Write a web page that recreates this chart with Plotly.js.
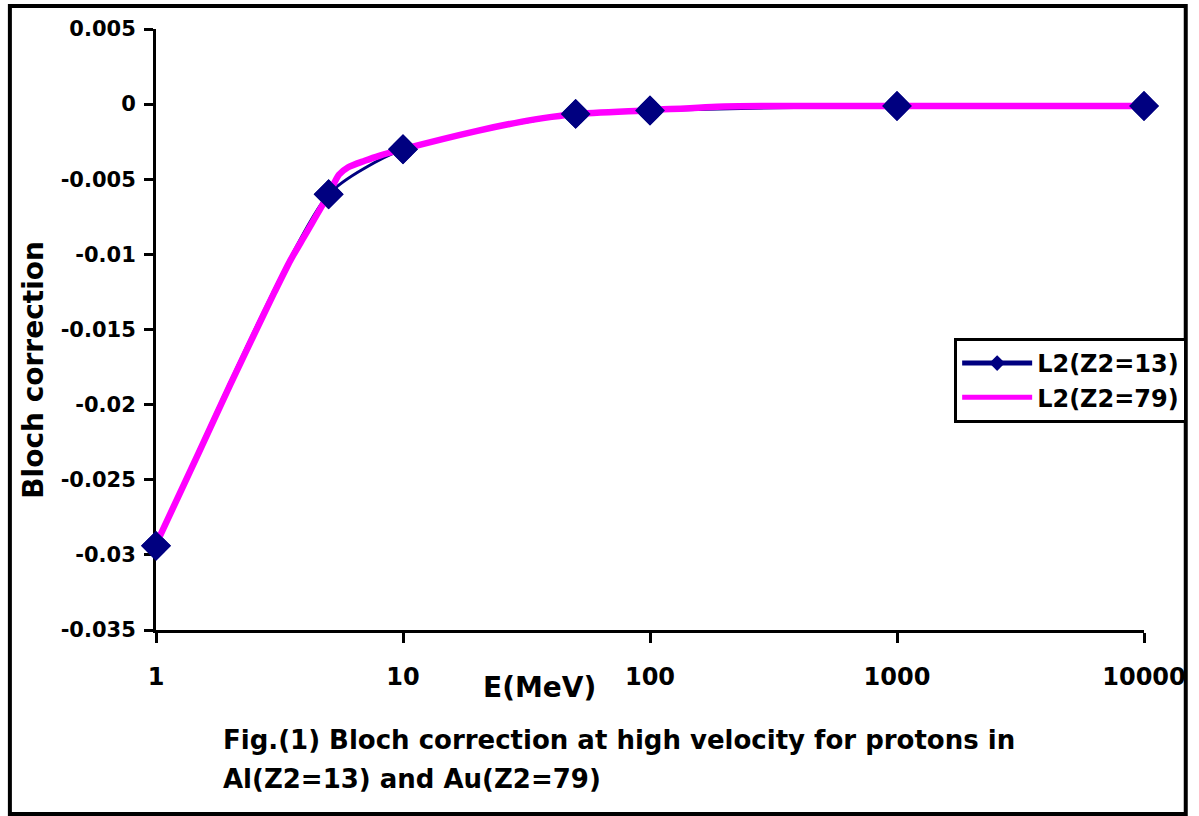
<!DOCTYPE html>
<html><head><meta charset="utf-8">
<script src="https://cdn.plot.ly/plotly-3.0.1.min.js"></script>
<style>html,body{margin:0;padding:0;background:#fff}#chart{width:1199px;height:816px}</style>
</head><body><div id="chart"></div>
<script>
// Series L2(Z2=13): marked points
const energyAl = [1, 5, 10, 50, 100, 1000, 10000];
const blochAl = [-0.0294, -0.0060, -0.0030, -0.00065, -0.00042, -0.00012, -0.00012];
// Series L2(Z2=79): denser curve
const energyAu = [1, 1.5, 2, 2.5, 3, 3.5, 4, 5, 5.5, 6, 7, 8, 10, 20, 30, 40, 50, 100, 200, 300, 500, 1000, 10000];
const blochAu = [-0.0293, -0.0231, -0.01865, -0.0153, -0.0126, -0.0104, -0.00875, -0.0060, -0.0047, -0.0042, -0.00377, -0.00344, -0.0030, -0.00178, -0.00118, -0.00085, -0.00065, -0.00040, -0.00015, -0.00012, -0.00012, -0.00012, -0.00012];
const seriesNames = ['L2(Z2=13)', 'L2(Z2=79)'];
const xTickVals = [1, 10, 100, 1000, 10000];
const xTickText = ['1', '10', '100', '1000', '10000'];
const yTickVals = [0.005, 0, -0.005, -0.01, -0.015, -0.02, -0.025, -0.03, -0.035];
const yTickText = ['0.005', '0', '-0.005', '-0.01', '-0.015', '-0.02', '-0.025', '-0.03', '-0.035'];
const xTitle = 'E(MeV)';
const yTitle = 'Bloch correction';
const captionLines = ['Fig.(1) Bloch correction at high velocity for protons in', 'Al(Z2=13) and Au(Z2=79)'];

const FONT = 'DejaVu Sans, Arial, sans-serif';
const NAVY = '#000080', PINK = '#FF00FF';
const L = 156, R = 49, T = 29, B = 186, W = 1199 - L - R, H = 816 - T - B;
const px = v => (v - L) / W;
const py = v => (816 - B - v) / H;

const traces = [
  {x: energyAl, y: blochAl, name: seriesNames[0], mode: 'lines+markers',
   line: {color: NAVY, width: 3, shape: 'spline', smoothing: 0.6}, marker: {symbol: 'diamond', size: 23, color: NAVY}, cliponaxis: false},
  {x: energyAu, y: blochAu, name: seriesNames[1], mode: 'lines',
   line: {color: PINK, width: 6.5, shape: 'spline', smoothing: 0.7}, cliponaxis: false},
  {x: energyAl, y: blochAl, name: seriesNames[0], mode: 'markers', showlegend: false,
   marker: {symbol: 'diamond', size: 23, color: NAVY}, cliponaxis: false}
];

const layout = {
  width: 1199, height: 816,
  margin: {l: L, r: R, t: T, b: B, pad: 0},
  paper_bgcolor: '#fff', plot_bgcolor: '#fff',
  showlegend: true,
  legend: {x: px(959), y: py(338), xanchor: 'left', yanchor: 'top',
    bordercolor: '#000', borderwidth: 3, bgcolor: '#fff',
    font: {family: FONT, size: 24, color: '#000', weight: 'bold'},
    itemwidth: 70, itemsizing: 'constant', tracegroupgap: 0},
  xaxis: {type: 'log', range: [0, 4], tickvals: xTickVals, ticktext: xTickText,
    showgrid: false, zeroline: false, showline: true, linecolor: '#000', linewidth: 3,
    ticks: 'outside', ticklen: 10, tickwidth: 3, tickcolor: '#000', layer: 'below traces',
    ticklabelstandoff: 13,
    tickfont: {family: FONT, size: 24, color: '#000', weight: 'bold'}},
  yaxis: {range: [-0.035, 0.005], tickvals: yTickVals, ticktext: yTickText,
    showgrid: false, zeroline: false, showline: true, linecolor: '#000', linewidth: 3,
    ticks: 'outside', ticklen: 9, tickwidth: 3, tickcolor: '#000', layer: 'below traces',
    ticklabelstandoff: 4,
    tickfont: {family: FONT, size: 21, color: '#000', weight: 'bold'}},
  annotations: [
    {text: xTitle, xref: 'paper', yref: 'paper', x: px(542), y: py(687), xanchor: 'center', yanchor: 'middle',
     showarrow: false, font: {family: FONT, size: 28, color: '#000', weight: 'bold'}},
    {text: yTitle, xref: 'paper', yref: 'paper', x: px(33), y: py(370), xanchor: 'center', yanchor: 'middle',
     textangle: -90, showarrow: false, font: {family: FONT, size: 28, color: '#000', weight: 'bold'}},
    {text: captionLines[0], xref: 'paper', yref: 'paper', x: px(221), y: py(740), xanchor: 'left', yanchor: 'middle',
     showarrow: false, font: {family: FONT, size: 26, color: '#000', weight: 'bold'}},
    {text: captionLines[1], xref: 'paper', yref: 'paper', x: px(221), y: py(779), xanchor: 'left', yanchor: 'middle',
     showarrow: false, font: {family: FONT, size: 26, color: '#000', weight: 'bold'}}
  ],
  shapes: [
    {type: 'rect', xref: 'paper', yref: 'paper', x0: px(9), x1: px(1192), y0: py(814), y1: py(6),
     line: {color: '#000', width: 4}, fillcolor: 'rgba(0,0,0,0)', layer: 'above'}
  ]
};

Plotly.newPlot('chart', traces, layout, {displayModeBar: false, staticPlot: true});
</script></body></html>
